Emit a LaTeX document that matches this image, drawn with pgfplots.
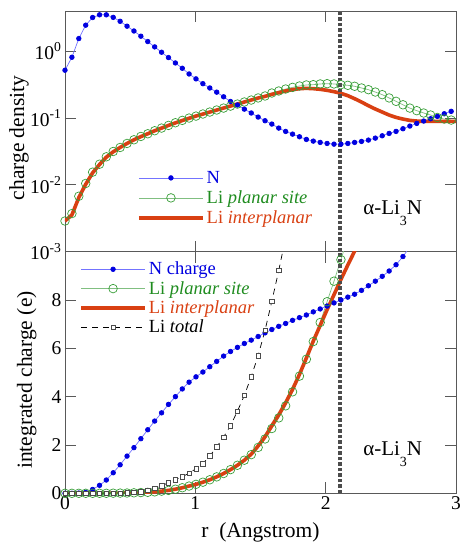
\documentclass[border=0pt]{standalone}
\usepackage{fontspec}
\setmainfont{Liberation Serif}
\usepackage{pgfplots}
\pgfplotsset{compat=1.18}

\definecolor{nblue}{rgb}{0.0,0.0,0.88}
\definecolor{nbluel}{rgb}{0.45,0.45,1.0}
\definecolor{lgreen}{rgb}{0.22,0.62,0.22}
\definecolor{lgreenl}{rgb}{0.5,0.75,0.5}
\definecolor{lgreent}{rgb}{0.12,0.55,0.12}
\definecolor{lred}{rgb}{0.85,0.25,0.07}
\definecolor{axgray}{rgb}{0.35,0.35,0.35}
\definecolor{vgray}{rgb}{0.3,0.3,0.3}

\pgfplotsset{
 common/.style={
  scale only axis, width=391pt,
  xmin=0, xmax=3,
  axis line style={axgray, line width=0.8pt},
  tick style={axgray, line width=0.8pt},
  major tick length=11pt,
  tick align=inside,
  xtick={0,1,2,3},
  minor tick num=0,
  /pgf/number format/assume math mode=true,
  tick label style={font=\fontsize{19.5}{22}\selectfont},
  label style={font=\fontsize{21.5}{25}\selectfont},
  legend cell align=left,
  legend style={draw=none, fill=none, font=\fontsize{18.5}{21}\selectfont,
    inner sep=0pt, nodes={inner sep=2pt}},
  legend image code/.code={\draw[mark repeat=2,mark phase=2] plot coordinates {(0pt,0pt) (32pt,0pt) (64pt,0pt)};},
 },
 nser/.style={color=nbluel, line width=0.7pt, mark=*, mark size=2.3pt, mark options={fill=nblue, draw=nblue, solid}},
 gser/.style={color=lgreenl, line width=0.7pt, mark=o, mark size=4.3pt, mark options={draw=lgreen, line width=0.7pt, solid}},
 rser/.style={color=lred, line width=3.6pt, no marks, line join=round},
 kser/.style={color=black, line width=0.7pt, dash pattern=on 6pt off 5pt, mark=square*, mark size=2.2pt, mark options={solid, fill=white, draw=black!70, line width=0.5pt}},
}

\begin{document}
\begin{tikzpicture}
%%%%%%%%%%%%%%%% TOP PANEL
\begin{axis}[common,
  at={(65pt,290.3pt)}, anchor=south west,
  height=240.7pt,
  ymode=log, ymin=0.001, ymax=4,
  ytick={0.001,0.01,0.1,1},
  yticklabels={10\textsuperscript{-3},10\textsuperscript{-2},10\textsuperscript{-1},10\textsuperscript{0}},
  yminorticks=false,
  xticklabels={},
  ylabel={charge density},
  ylabel style={at={(axis description cs:-0.118,0.472)}, anchor=center},
  legend style={at={(0.184,0.344)}, anchor=north west, row sep=2pt},
]
\addplot[nser] coordinates {
(0,0.52) (0.053,0.813) (0.106,1.549) (0.159,2.455) (0.212,3.199) (0.265,3.508)
(0.317,3.508) (0.370,3.214) (0.423,2.805) (0.476,2.371) (0.529,2.009) (0.582,1.679)
(0.635,1.396) (0.688,1.161) (0.741,0.966) (0.794,0.804) (0.847,0.668) (0.900,0.556)
(0.952,0.457) (1.005,0.386) (1.058,0.327) (1.111,0.282) (1.164,0.244) (1.217,0.208)
(1.270,0.177) (1.323,0.157) (1.376,0.136) (1.429,0.119) (1.482,0.1035) (1.535,0.0912)
(1.587,0.0813) (1.640,0.0708) (1.693,0.0631) (1.746,0.0575) (1.799,0.0525) (1.852,0.0479)
(1.905,0.0452) (1.958,0.0432) (2.011,0.0417) (2.064,0.0407) (2.117,0.0407) (2.170,0.0417)
(2.222,0.0432) (2.275,0.0447) (2.328,0.0468) (2.381,0.0501) (2.434,0.0543) (2.487,0.0589)
(2.540,0.0631) (2.593,0.0692) (2.646,0.0759) (2.699,0.0832) (2.752,0.0902) (2.805,0.0977)
(2.857,0.106) (2.910,0.116) (2.963,0.126)
};
\addlegendentry{\textcolor{nblue}{N}\vphantom{Lp}}
\addplot[gser] coordinates {
(0,0.00288) (0.053,0.00372) (0.106,0.00676) (0.159,0.0105) (0.212,0.0155) (0.265,0.0204)
(0.317,0.0263) (0.370,0.0316) (0.423,0.0363) (0.476,0.0417) (0.529,0.0473) (0.582,0.0531)
(0.635,0.0582) (0.688,0.0646) (0.741,0.0708) (0.794,0.0776) (0.847,0.0851) (0.900,0.0923)
(0.952,0.100) (1.005,0.107) (1.058,0.115) (1.111,0.123) (1.164,0.132) (1.217,0.141)
(1.270,0.151) (1.323,0.162) (1.376,0.174) (1.429,0.186) (1.482,0.200) (1.535,0.214)
(1.587,0.237) (1.640,0.254) (1.693,0.272) (1.746,0.288) (1.799,0.302) (1.852,0.313)
(1.905,0.316) (1.958,0.324) (2.011,0.327) (2.064,0.324) (2.117,0.316) (2.170,0.309)
(2.222,0.299) (2.275,0.282) (2.328,0.266) (2.381,0.245) (2.434,0.224) (2.487,0.200)
(2.540,0.178) (2.593,0.158) (2.646,0.141) (2.699,0.129) (2.752,0.119) (2.805,0.111)
(2.857,0.102) (2.910,0.0966) (2.963,0.0933)
};
\addlegendentry{\textcolor{lgreent}{Li \textit{planar site}}\vphantom{Lp}}
\addplot[rser] coordinates {
(0,0.00288) (0.053,0.00355) (0.106,0.00646) (0.159,0.01023) (0.212,0.01514) (0.265,0.02018)
(0.317,0.02600) (0.370,0.03126) (0.423,0.03631) (0.476,0.04169) (0.529,0.04732) (0.582,0.05272)
(0.635,0.05821) (0.688,0.06457) (0.741,0.07079) (0.794,0.07762) (0.847,0.08472) (0.900,0.09183)
(0.952,0.09931) (1.005,0.1072) (1.058,0.1148) (1.111,0.1230) (1.164,0.1318) (1.217,0.1413)
(1.270,0.1514) (1.323,0.1622) (1.376,0.1738) (1.429,0.1862) (1.482,0.1995) (1.535,0.2113)
(1.587,0.2265) (1.640,0.2399) (1.693,0.2541) (1.746,0.2661) (1.799,0.2754) (1.852,0.2786)
(1.905,0.2754) (1.958,0.2692) (2.011,0.2600) (2.064,0.2483) (2.117,0.2344) (2.170,0.2163)
(2.222,0.1950) (2.275,0.1738) (2.328,0.1531) (2.381,0.1365) (2.434,0.1230) (2.487,0.1109)
(2.540,0.1023) (2.593,0.0966) (2.646,0.0923) (2.699,0.0902) (2.752,0.0891) (2.805,0.0891)
(2.857,0.0891) (2.910,0.0891) (2.963,0.0891) (3.016,0.0891)
};
\addlegendentry{\textcolor{lred}{Li \textit{interplanar}}\vphantom{Lp}}
\addplot[draw=vgray, line width=3.4pt, dash pattern=on 3.5pt off 2pt, line cap=butt, mark=none, forget plot]
  coordinates {(2.11,0.001) (2.11,4)};
\node[anchor=base west, inner sep=0pt, font=\fontsize{21}{25}\selectfont] at (axis cs:2.287,0.0036)
  {α-Li\raisebox{-11pt}{\fontsize{14}{14}\selectfont 3}N};
\end{axis}
%%%%%%%%%%%%%%%% BOTTOM PANEL
\begin{axis}[common,
  at={(65pt,48.7pt)}, anchor=south west,
  height=241.6pt,
  ymin=0, ymax=10,
  ytick={0,2,4,6,8},
  xticklabels={0,1,2,3},
  ylabel={integrated charge (e)},
  ylabel style={at={(axis description cs:-0.098,0.469)}, anchor=center},
  xlabel={r\ \ (Angstrom)},
  xlabel style={at={(axis description cs:0.5,0)}, anchor=base, yshift=-44.2pt},
  legend style={at={(0.036,0.966)}, anchor=north west, row sep=1pt},
]
\addplot[nser] coordinates {
(0,0) (0.053,0) (0.106,0.01) (0.159,0.04) (0.212,0.16) (0.265,0.33) (0.317,0.55)
(0.370,0.85) (0.423,1.18) (0.476,1.54) (0.529,1.89) (0.582,2.26) (0.635,2.63) (0.688,2.99)
(0.741,3.33) (0.794,3.68) (0.847,4.00) (0.900,4.32) (0.952,4.60) (1.005,4.82) (1.058,5.02)
(1.111,5.24) (1.164,5.46) (1.217,5.68) (1.270,5.87) (1.323,6.04) (1.376,6.20) (1.429,6.34)
(1.482,6.49) (1.535,6.64) (1.587,6.78) (1.640,6.91) (1.693,7.03) (1.746,7.16) (1.799,7.27)
(1.852,7.38) (1.905,7.51) (1.958,7.63) (2.011,7.75) (2.064,7.88) (2.117,8.00) (2.170,8.12)
(2.222,8.24) (2.275,8.40) (2.328,8.59) (2.381,8.78) (2.434,8.98) (2.487,9.20) (2.540,9.46)
(2.593,9.80)
};
\addlegendentry{\textcolor{nblue}{N charge}\vphantom{Lp}}
\addplot[gser] coordinates {
(0,0) (0.053,0) (0.106,0) (0.159,0) (0.212,0) (0.265,0) (0.317,0) (0.370,0.005)
(0.423,0.008) (0.476,0.012) (0.529,0.02) (0.582,0.03) (0.635,0.04) (0.688,0.06)
(0.741,0.09) (0.794,0.12) (0.847,0.17) (0.900,0.23) (0.952,0.30) (1.005,0.37)
(1.058,0.46) (1.111,0.56) (1.164,0.68) (1.217,0.82) (1.270,0.98) (1.323,1.16)
(1.376,1.37) (1.429,1.60) (1.482,1.90) (1.535,2.25) (1.587,2.68) (1.640,3.12)
(1.693,3.62) (1.746,4.20) (1.799,4.85) (1.852,5.55) (1.905,6.28) (1.958,7.07)
(2.011,7.93) (2.064,8.78) (2.117,9.67)
};
\addlegendentry{\textcolor{lgreent}{Li \textit{planar site}}\vphantom{Lp}}
\addplot[rser] coordinates {
(0,0) (0.053,0) (0.106,0) (0.159,0) (0.212,0) (0.265,0) (0.317,0) (0.370,0.005)
(0.423,0.008) (0.476,0.012) (0.529,0.02) (0.582,0.03) (0.635,0.04) (0.688,0.06)
(0.741,0.09) (0.794,0.12) (0.847,0.17) (0.900,0.23) (0.952,0.30) (1.005,0.37)
(1.058,0.46) (1.111,0.56) (1.164,0.68) (1.217,0.82) (1.270,0.98) (1.323,1.16)
(1.376,1.37) (1.429,1.62) (1.482,1.96) (1.535,2.34) (1.587,2.80) (1.640,3.25)
(1.693,3.75) (1.746,4.30) (1.799,4.92) (1.852,5.60) (1.905,6.30) (1.958,6.95)
(2.011,7.60) (2.064,8.22) (2.117,8.85) (2.170,9.45) (2.222,10.02) (2.275,10.6)
};
\addlegendentry{\textcolor{lred}{Li \textit{interplanar}}\vphantom{Lp}}
\addplot[kser] coordinates {
(0,0) (0.053,0) (0.106,0) (0.159,0) (0.212,0) (0.265,0) (0.317,0) (0.370,0)
(0.423,0.01) (0.476,0.02) (0.529,0.04) (0.582,0.07) (0.635,0.12) (0.688,0.20)
(0.741,0.31) (0.794,0.44) (0.847,0.56) (0.900,0.69) (0.952,0.83) (1.005,1.02)
(1.058,1.23) (1.111,1.55) (1.164,1.92) (1.217,2.33) (1.270,2.80) (1.323,3.40)
(1.376,4.05) (1.429,4.83) (1.482,5.70) (1.535,6.75) (1.587,7.95) (1.640,9.22)
};
\addlegendentry{Li \textit{total}\vphantom{Lp}}
% continuation of the curves beyond the top edge (clipped, no markers)
\addplot[color=nbluel, line width=0.7pt, forget plot] coordinates {(2.593,9.80) (2.646,10.2)};
\addplot[color=lgreenl, line width=0.7pt, forget plot] coordinates {(2.117,9.67) (2.170,10.6)};
\addplot[color=black, line width=0.7pt, dash pattern=on 6pt off 5pt, forget plot] coordinates {(1.640,9.22) (1.693,10.6)};
\addplot[draw=vgray, line width=3.4pt, dash pattern=on 3.5pt off 2pt, line cap=butt, mark=none, forget plot]
  coordinates {(2.11,0) (2.11,10)};
\node[anchor=base west, inner sep=0pt, font=\fontsize{21}{25}\selectfont] at (axis cs:2.287,1.577)
  {α-Li\raisebox{-11pt}{\fontsize{14}{14}\selectfont 3}N};
\end{axis}
\pgfresetboundingbox
\path[use as bounding box] (0pt,0pt) rectangle (460pt,542pt);
\end{tikzpicture}
\end{document}
